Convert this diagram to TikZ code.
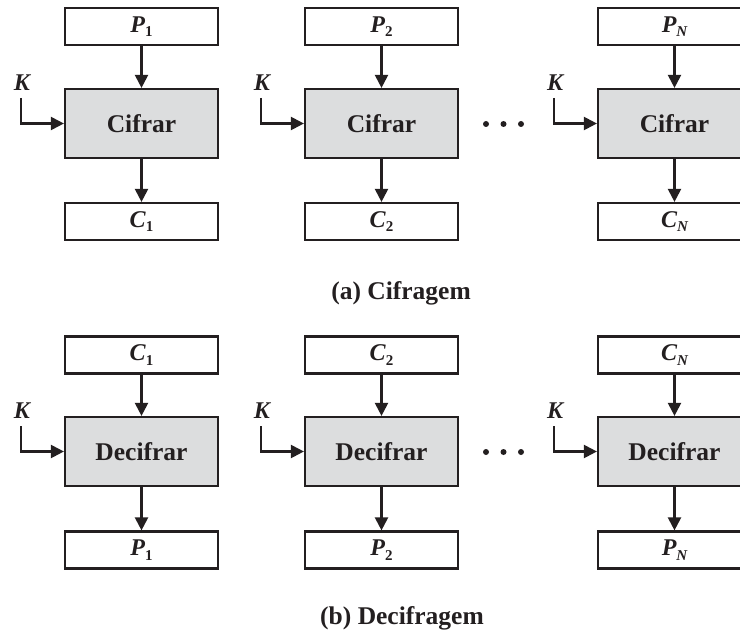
\documentclass[tikz,border=0pt]{standalone}
\usepackage{fontspec}
\setmainfont{Liberation Serif}
\usetikzlibrary{arrows.meta}
\definecolor{ink}{HTML}{231F20}
\definecolor{blockfill}{HTML}{DCDDDE}
\newcommand{\idx}[1]{\raisebox{-0.4ex}{\fontsize{15}{15}\selectfont #1}}
\begin{document}
\begin{tikzpicture}[x=1pt,y=-1pt,
  databox/.style={draw=ink, fill=white, line width=2.2pt, minimum width=153pt,
    minimum height=37pt, inner sep=0pt, text=ink,
    font=\fontsize{24}{24}\selectfont\bfseries\itshape},
  opbox/.style={draw=ink, fill=blockfill, line width=2.2pt, minimum width=153pt,
    minimum height=69pt, inner sep=0pt, text=ink,
    font=\fontsize{25.5}{25.5}\selectfont\bfseries},
  flow/.style={draw=ink, line width=2.2pt, -{Triangle[length=13pt,width=13pt]}},
  keylbl/.style={text=ink, inner sep=0pt, font=\fontsize{24}{24}\selectfont\bfseries\itshape},
  caption/.style={text=ink, inner sep=0pt, font=\fontsize{25.5}{25.5}\selectfont\bfseries},
  dotmark/.style={circle, fill=ink, inner sep=0pt, minimum size=6pt}]
\path[use as bounding box] (0,0) rectangle (740,634);
\clip (0,0) rectangle (740,634);

% (a) encryption row
\foreach \col/\x/\s in {1/65/{\upshape 1}, 2/305/{\upshape 2}, 3/598/N} {
  \node[databox] (p\col) at (\x+76.5, 26.5) {P\idx{\s}};
  \node[opbox]   (e\col) at (\x+76.5, 123.5) {Cifrar};
  \node[databox] (c\col) at (\x+76.5, 221.5) {C\idx{\s}};
  \node[keylbl]  (k\col) at (\x-43, 83) {K};
  \coordinate (ks\col) at (\x-44, 98);
  \draw[flow] (p\col) -- (e\col);
  \draw[flow] (e\col) -- (c\col);
  \draw[flow] (ks\col) |- (e\col.west);
}
\node[dotmark] (da1) at (486,124) {};
\node[dotmark] (da2) at (503.5,124) {};
\node[dotmark] (da3) at (521,124) {};
\node[caption] (capa) at (401,293) {(a) Cifragem};

% (b) decryption row
\foreach \col/\x/\s in {1/65/{\upshape 1}, 2/305/{\upshape 2}, 3/598/N} {
  \node[databox] (cd\col) at (\x+76.5, 355) {C\idx{\s}};
  \node[opbox]   (d\col)  at (\x+76.5, 451.5) {Decifrar};
  \node[databox] (pd\col) at (\x+76.5, 550) {P\idx{\s}};
  \node[keylbl]  (kd\col) at (\x-43, 411) {K};
  \coordinate (kds\col) at (\x-44, 426);
  \draw[flow] (cd\col) -- (d\col);
  \draw[flow] (d\col) -- (pd\col);
  \draw[flow] (kds\col) |- (d\col.west);
}
\node[dotmark] (db1) at (486,452) {};
\node[dotmark] (db2) at (503.5,452) {};
\node[dotmark] (db3) at (521,452) {};
\node[caption] (capb) at (402,618) {(b) Decifragem};
\end{tikzpicture}
\end{document}
